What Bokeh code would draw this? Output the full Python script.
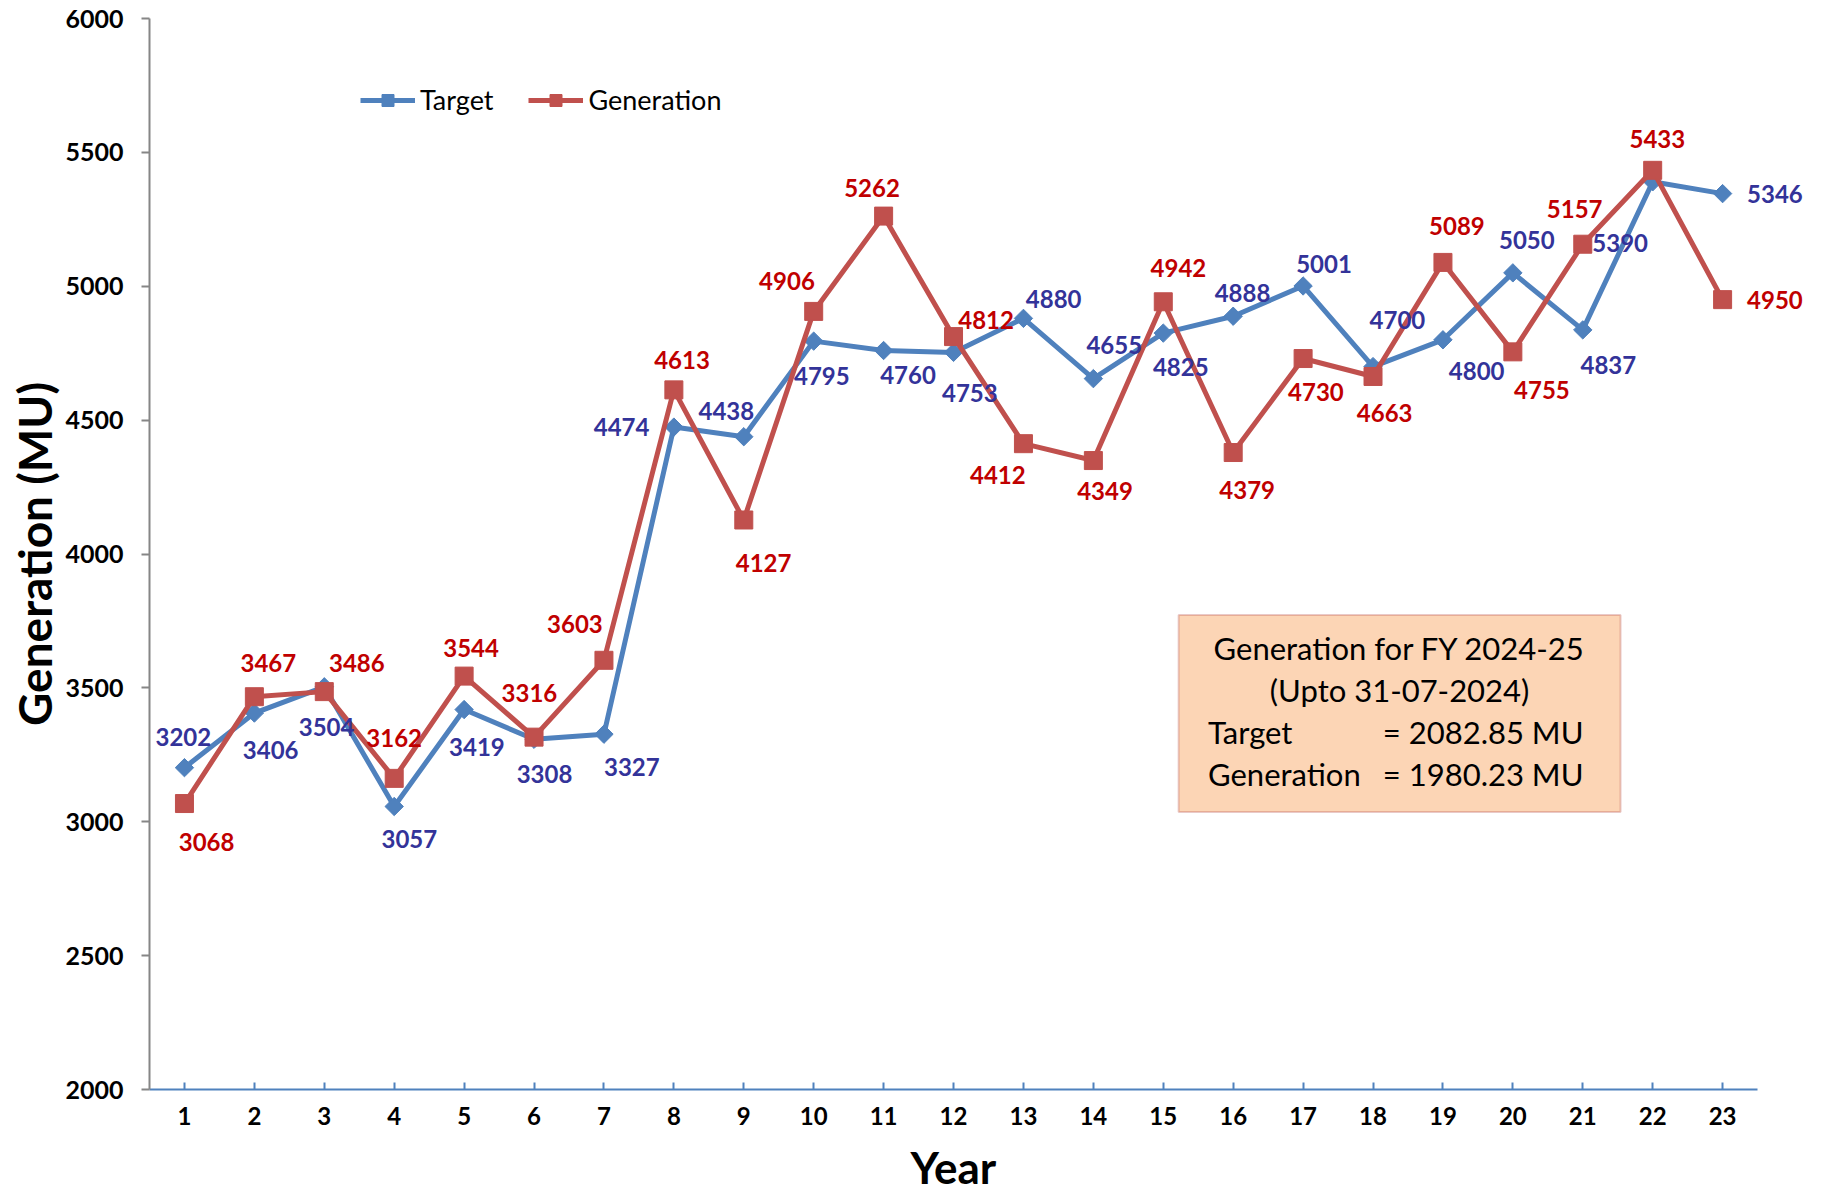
from bokeh.plotting import figure
from bokeh.models import (ColumnDataSource, FixedTicker, Range1d, Legend, LegendItem,
                          BoxAnnotation, Label, Title)
from bokeh.core.properties import value
from bokeh.embed import file_html
from bokeh.resources import INLINE

# ---- data ----
years = list(range(1, 24))
target = [3202, 3406, 3504, 3057, 3419, 3308, 3327, 4474, 4438, 4795, 4760, 4753,
          4880, 4655, 4825, 4888, 5001, 4700, 4800, 5050, 4837, 5390, 5346]
generation = [3068, 3467, 3486, 3162, 3544, 3316, 3603, 4613, 4127, 4906, 5262, 4812,
              4412, 4349, 4942, 4379, 4730, 4663, 5089, 4755, 5157, 5433, 4950]
y_ticks = [2000, 2500, 3000, 3500, 4000, 4500, 5000, 5500, 6000]
note_lines = ["Generation for FY 2024-25", "(Upto 31-07-2024)"]
note_keys = ["Target", "Generation"]
note_vals = ["= 2082.85 MU", "= 1980.23 MU"]

# ---- label placement (styling, in reference pixels) ----
S = 1.1626
t_dx = [-1, 14, 2, 13, 11, 9, 24, -45, -15, 7, 21, 14, 26, 18, 15, 8, 18, 21, 29, 12, 22, -28, 45]
t_dy = [-26, 32, 35, 28, 32, 30, 28, 0, -22, 30, 21, 35, -17, -29, 29, -20, -19, -40, 27, -28, 30, 53, 0]
g_dx = [19, 12, 28, 0, 6, -4, -25, 7, 17, -23, -10, 28, -22, 10, 13, 12, 11, 10, 12, 25, -7, 4, 45]
g_dy = [33, -29, -25, -35, -24, -38, -31, -26, 37, -26, -24, -14, 27, 26, -29, 32, 29, 31, -31, 33, -30, -27, 0]

FONT = "Lato"
BLUE = "#4F81BD"
RED = "#C0504D"
BLUE_T = "#333399"
RED_T = "#C00000"

src = ColumnDataSource(dict(
    x=years, t=target, g=generation,
    tl=[str(v) for v in target], gl=[str(v) for v in generation],
    tdx=[d * S for d in t_dx], tdy=[d * S for d in t_dy],
    gdx=[d * S for d in g_dx], gdy=[d * S for d in g_dy],
))

p = figure(frame_width=1657, frame_height=1071, output_backend="svg", toolbar_location=None,
           x_range=Range1d(0.5, 24.2), y_range=Range1d(2000, 6000),
           min_border_left=149, min_border_right=17, min_border_top=18, min_border_bottom=0)
p.outline_line_color = None
p.grid.visible = False
p.background_fill_color = "white"

# axes
p.xaxis.ticker = FixedTicker(ticks=years)
p.xaxis.bounds = (0.5, 23.5)
p.yaxis.ticker = FixedTicker(ticks=y_ticks)
for ax in (p.xaxis, p.yaxis):
    ax.major_label_text_font = FONT
    ax.major_label_text_font_style = "bold"
    ax.major_label_text_color = "black"
    ax.minor_tick_line_color = None
    ax.axis_label_text_font = FONT
    ax.axis_label_text_font_style = "bold"
    ax.axis_label_text_color = "black"
p.yaxis.major_label_text_font_size = "25px"
p.xaxis.major_label_text_font_size = "24px"
p.yaxis.axis_line_color = "#868686"
p.yaxis.major_tick_line_color = "#868686"
p.yaxis.axis_line_width = 2
p.yaxis.major_tick_line_width = 2
p.yaxis.major_tick_out = 8
p.yaxis.major_tick_in = 0
p.yaxis.major_label_standoff = 18
p.xaxis.axis_line_color = BLUE
p.xaxis.major_tick_line_color = BLUE
p.xaxis.axis_line_width = 2
p.xaxis.major_tick_line_width = 2
p.xaxis.major_tick_in = 7
p.xaxis.major_tick_out = 0
p.xaxis.major_label_standoff = 17
p.yaxis.axis_label = "Generation (MU)"
p.yaxis.axis_label_text_font_size = "46px"
p.yaxis.axis_label_standoff = 0

# x-axis title, placed under the 0.5-23.5 span of the axis
p.add_layout(Title(text="Year", align="left", offset=761, standoff=22,
                   text_font=FONT, text_font_style="bold", text_font_size="44px",
                   text_color="black"), "below")

# note box
p.add_layout(BoxAnnotation(left=15.22, right=21.54, bottom=3036, top=3772,
                           fill_color="#FCD5B5", fill_alpha=1.0,
                           line_color="#B5504B", line_width=2, level="underlay"))
for txt, yy in zip(note_lines, [3649, 3492]):
    p.add_layout(Label(x=18.38, y=yy, text=txt, text_font=FONT, text_font_size="31px",
                       text_align="center", text_baseline="middle", text_color="black"))
for k, v, yy in zip(note_keys, note_vals, [3335, 3180]):
    p.add_layout(Label(x=15.64, y=yy, text=k, text_font=FONT, text_font_size="31px",
                       text_align="left", text_baseline="middle", text_color="black"))
    p.add_layout(Label(x=18.14, y=yy, text=v, text_font=FONT, text_font_size="31px",
                       text_align="left", text_baseline="middle", text_color="black"))

# series
lt = p.line("x", "t", source=src, line_color=BLUE, line_width=5, line_join="round")
mt = p.scatter("x", "t", source=src, marker="square", angle=0.785398, size=13,
               fill_color=BLUE, line_color=BLUE)
lg = p.line("x", "g", source=src, line_color=RED, line_width=5, line_join="round")
mg = p.scatter("x", "g", source=src, marker="square", size=18,
               fill_color=RED, line_color=RED)

# data labels
p.text("x", "t", text="tl", source=src, x_offset="tdx", y_offset="tdy",
       text_font=value(FONT), text_font_style="bold", text_font_size="24px",
       text_color=BLUE_T, text_align="center", text_baseline="middle")
p.text("x", "g", text="gl", source=src, x_offset="gdx", y_offset="gdy",
       text_font=value(FONT), text_font_style="bold", text_font_size="24px",
       text_color=RED_T, text_align="center", text_baseline="middle")

legend = Legend(items=[LegendItem(label="Target", renderers=[lt, mt]),
                       LegendItem(label="Generation", renderers=[lg, mg])],
                orientation="horizontal", location=(211, 973),
                glyph_width=55, glyph_height=30, label_standoff=5, spacing=35,
                padding=0, margin=0, border_line_color=None, background_fill_alpha=0,
                label_text_font=FONT, label_text_font_size="27px", label_text_color="black")
p.add_layout(legend)

open("out.html", "w").write(file_html(p, INLINE))
